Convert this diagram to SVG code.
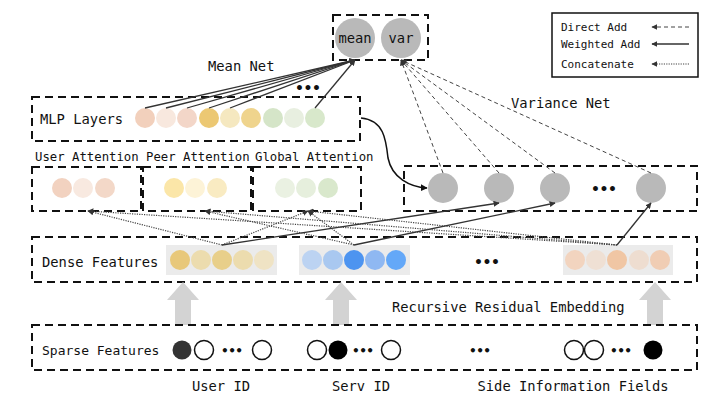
<svg xmlns="http://www.w3.org/2000/svg" width="708" height="400" viewBox="0 0 708 400">
<style>
text{font-family:"DejaVu Sans Mono","Liberation Mono",monospace;fill:#111;}
.t{font-size:13.8px;}
.s{font-size:12.3px;}
.l{font-size:11px;}
.box{fill:none;stroke:#111;stroke-width:2;stroke-dasharray:8 5;}
.gray{fill:#b9b9b9;}
.bg{fill:#ebebeb;}
.w{stroke:#333;stroke-width:1.3;fill:none;}
.d{stroke:#444;stroke-width:1;fill:none;stroke-dasharray:4 3;}
.c{stroke:#444;stroke-width:1.2;fill:none;stroke-dasharray:1.2 1.2;}
.open{fill:#fff;stroke:#111;stroke-width:1.5;}
.fat{fill:#d3d3d3;}
</style>
<defs>
<marker id="ah" viewBox="0 0 10 10" refX="9" refY="5" markerWidth="6" markerHeight="6" markerUnits="userSpaceOnUse" orient="auto">
<path d="M0,0 L10,5 L0,10 z" fill="#333"/>
</marker>
<marker id="ahb" viewBox="0 0 10 10" refX="9" refY="5" markerWidth="7" markerHeight="7" markerUnits="userSpaceOnUse" orient="auto">
<path d="M0,0 L10,5 L0,10 z" fill="#111"/>
</marker>
</defs>

<g id="legend">
<rect x="552" y="13" width="146" height="64" fill="#fff" stroke="#111" stroke-width="1.5"/>
<text class="l" x="561" y="31">Direct Add</text>
<text class="l" x="561" y="48">Weighted Add</text>
<text class="l" x="561" y="68">Concatenate</text>
<line class="d" x1="689" y1="27" x2="652" y2="27" marker-end="url(#ah)"/>
<line class="w" x1="689" y1="44" x2="652" y2="44" marker-end="url(#ah)"/>
<line class="c" x1="689" y1="64" x2="652" y2="64" marker-end="url(#ah)"/>
</g>

<g id="output">
<rect class="box" x="333" y="15" width="95" height="45"/>
<circle class="gray" cx="355" cy="38" r="20"/>
<circle class="gray" cx="401" cy="38" r="20"/>
<text class="t" x="355" y="43" text-anchor="middle">mean</text>
<text class="t" x="401" y="43" text-anchor="middle">var</text>
</g>

<g id="labels">
<text class="t" x="208" y="71">Mean Net</text>
<text class="t" x="511" y="108">Variance Net</text>
<text x="308" y="93" font-size="14" font-weight="bold" text-anchor="middle">•••</text>
</g>

<g id="mlp">
<rect class="box" x="32" y="97" width="328" height="44"/>
<text class="t" x="40" y="124">MLP Layers</text>
<circle cx="145" cy="118" r="10" fill="#f2d0bc"/>
<circle cx="166" cy="118" r="10" fill="#f8e8de"/>
<circle cx="187" cy="118" r="10" fill="#f3d6c8"/>
<circle cx="209" cy="118" r="10" fill="#ecc873"/>
<circle cx="230" cy="118" r="10" fill="#f5e8c0"/>
<circle cx="251" cy="118" r="10" fill="#efd48d"/>
<circle cx="273" cy="118" r="10" fill="#d5e5c8"/>
<circle cx="294" cy="118" r="10" fill="#e8efe0"/>
<circle cx="315" cy="118" r="10" fill="#d8e8cb"/>
</g>

<g id="attention">
<text class="s" x="35" y="161">User Attention</text>
<text class="s" x="146" y="161">Peer Attention</text>
<text class="s" x="255" y="161">Global Attention</text>
<rect class="box" x="32" y="167" width="109" height="44"/>
<rect class="box" x="143" y="167" width="108" height="44"/>
<rect class="box" x="253" y="167" width="108" height="44"/>
<circle cx="62" cy="188" r="10" fill="#f2d2c0"/>
<circle cx="83" cy="188" r="10" fill="#f8e9e0"/>
<circle cx="105" cy="188" r="10" fill="#f3d8c8"/>
<circle cx="174" cy="188" r="10" fill="#fbe6a8"/>
<circle cx="195" cy="188" r="10" fill="#fdf3d7"/>
<circle cx="217" cy="188" r="10" fill="#f9ebc2"/>
<circle cx="285" cy="188" r="10" fill="#eaf1e2"/>
<circle cx="306" cy="188" r="10" fill="#e6efdd"/>
<circle cx="328" cy="188" r="10" fill="#d9e8cc"/>
</g>

<g id="variance">
<rect class="box" x="404" y="166" width="293" height="45"/>
<circle class="gray" cx="443" cy="188" r="15"/>
<circle class="gray" cx="499" cy="188" r="15"/>
<circle class="gray" cx="555" cy="188" r="15"/>
<circle class="gray" cx="651" cy="188" r="15"/>
<text x="604" y="194" font-size="14" font-weight="bold" text-anchor="middle">•••</text>
</g>

<g id="dense">
<rect class="box" x="32" y="237" width="665" height="45"/>
<text class="t" x="42" y="267">Dense Features</text>
<rect class="bg" x="166" y="245" width="111" height="30"/>
<rect class="bg" x="299" y="245" width="111" height="30"/>
<rect class="bg" x="563" y="245" width="110" height="30"/>
<circle cx="180" cy="260" r="10" fill="#e8c87a"/>
<circle cx="201" cy="260" r="10" fill="#ecdcae"/>
<circle cx="222" cy="260" r="10" fill="#e8cf8a"/>
<circle cx="243" cy="260" r="10" fill="#ecdcae"/>
<circle cx="264" cy="260" r="10" fill="#efe3c4"/>
<circle cx="312" cy="260" r="10" fill="#bcd3f2"/>
<circle cx="333" cy="260" r="10" fill="#a9c8f0"/>
<circle cx="354" cy="260" r="10" fill="#4d94f0"/>
<circle cx="375" cy="260" r="10" fill="#8fb8f2"/>
<circle cx="396" cy="260" r="10" fill="#64a8f8"/>
<circle cx="575" cy="260" r="10" fill="#f2d4bf"/>
<circle cx="596" cy="260" r="10" fill="#efe0d4"/>
<circle cx="617" cy="260" r="10" fill="#f0c6a4"/>
<circle cx="639" cy="260" r="10" fill="#eeddd0"/>
<circle cx="660" cy="260" r="10" fill="#f0cdb4"/>
<text x="487" y="267" font-size="14" font-weight="bold" text-anchor="middle">•••</text>
</g>

<g id="embedding">
<path class="fat" d="M175,325 V300 H167 L183,282 L199,300 H191 V325 Z"/>
<path class="fat" d="M333,325 V300 H325 L341,282 L357,300 H349 V325 Z"/>
<path class="fat" d="M647,325 V300 H639 L655,282 L671,300 H663 V325 Z"/>
<text class="t" x="392" y="312">Recursive Residual Embedding</text>
</g>

<g id="sparse">
<rect class="box" x="32" y="325" width="665" height="45"/>
<text x="42" y="355" font-size="13">Sparse Features</text>
<circle cx="182" cy="350" r="9.5" fill="#333"/>
<circle class="open" cx="204" cy="350" r="9.5"/>
<text x="232" y="355" font-size="12" font-weight="bold" text-anchor="middle">•••</text>
<circle class="open" cx="262" cy="350" r="9.5"/>
<circle class="open" cx="317" cy="350" r="9.5"/>
<circle cx="338" cy="350" r="9.5" fill="#000"/>
<text x="363" y="355" font-size="12" font-weight="bold" text-anchor="middle">•••</text>
<circle class="open" cx="391" cy="350" r="9.5"/>
<text x="480" y="355" font-size="12" font-weight="bold" text-anchor="middle">•••</text>
<circle class="open" cx="574" cy="350" r="9.5"/>
<circle class="open" cx="594" cy="350" r="9.5"/>
<text x="621" y="355" font-size="12" font-weight="bold" text-anchor="middle">•••</text>
<circle cx="653" cy="350" r="9.5" fill="#000"/>
<text class="t" x="221" y="391" text-anchor="middle">User ID</text>
<text class="t" x="361" y="391" text-anchor="middle">Serv ID</text>
<text class="t" x="573" y="391" text-anchor="middle">Side Information Fields</text>
</g>

<g id="connectors">
<line class="w" x1="145" y1="108" x2="355" y2="60" marker-end="url(#ah)"/>
<line class="w" x1="166" y1="108" x2="355" y2="60" marker-end="url(#ah)"/>
<line class="w" x1="187" y1="108" x2="355" y2="60" marker-end="url(#ah)"/>
<line class="w" x1="209" y1="108" x2="355" y2="60" marker-end="url(#ah)"/>
<line class="w" x1="230" y1="108" x2="355" y2="60" marker-end="url(#ah)"/>
<line class="w" x1="315" y1="108" x2="355" y2="60" marker-end="url(#ah)"/>
<line class="d" x1="443" y1="173" x2="401" y2="60" marker-end="url(#ah)"/>
<line class="d" x1="499" y1="173" x2="401" y2="60" marker-end="url(#ah)"/>
<line class="d" x1="555" y1="173" x2="401" y2="60" marker-end="url(#ah)"/>
<line class="d" x1="651" y1="173" x2="401" y2="60" marker-end="url(#ah)"/>
<path d="M361,118 C384,120 386,140 388,158 C392,178 410,187 427,188" fill="none" stroke="#111" stroke-width="1.5" marker-end="url(#ahb)"/>
<line class="w" x1="222" y1="245" x2="499" y2="203" marker-end="url(#ah)"/>
<line class="w" x1="354" y1="245" x2="555" y2="203" marker-end="url(#ah)"/>
<line class="w" x1="617" y1="245" x2="651" y2="203" marker-end="url(#ah)"/>
<line class="c" x1="222" y1="245" x2="88" y2="211" marker-end="url(#ah)"/>
<line class="c" x1="222" y1="245" x2="308" y2="211" marker-end="url(#ah)"/>
<line class="c" x1="354" y1="245" x2="308" y2="211" marker-end="url(#ah)"/>
<line class="c" x1="354" y1="245" x2="205" y2="211" marker-end="url(#ah)"/>
<line class="c" x1="617" y1="245" x2="88" y2="211" marker-end="url(#ah)"/>
<line class="c" x1="617" y1="245" x2="205" y2="211" marker-end="url(#ah)"/>
<line class="c" x1="617" y1="245" x2="308" y2="211" marker-end="url(#ah)"/>
</g>
</svg>
